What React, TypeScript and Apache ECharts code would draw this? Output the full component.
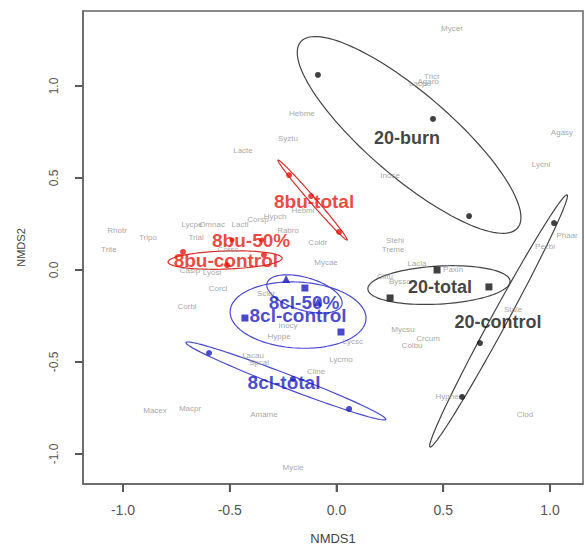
import React, { useEffect, useRef } from "react";
import * as echarts from "echarts";

// ---- Data (NMDS coordinates) ----
const xTicks = [-1.0, -0.5, 0.0, 0.5, 1.0];
const yTicks = [-1.0, -0.5, 0.0, 0.5, 1.0];
const xMin = -1.1874, xMax = 1.1546;
const yMin = -1.163, yMax = 1.4076;

const speciesNames = [
  "Mycer", "Tricr", "Lacpu", "Agaro", "Hebme", "Syztu", "Lacte", "Agasy", "Lycni", "Inose",
  "Rhotr", "Tripo", "Trite", "Lycpe", "Omnac", "Lactl", "Corsp", "Hypch", "Hebmi", "Rabro",
  "Trial", "Corsc", "Caslp", "Lyosi", "Corcl", "Corbl", "Scler", "Coldr", "Mycae", "Stehi",
  "Treme", "Lacla", "Paxin", "Clitu", "Bysso", "Phaar", "Pezbi", "Stale", "Mycsu", "Crcum",
  "Colbu", "Hyphe", "Clod", "Lycsc", "Lycmo", "Cline", "Hyppe", "Inocy", "Lacau", "Spcal",
  "Macex", "Macpr", "Amame", "Mycle",
];
const speciesX = [
  0.541, 0.447, 0.391, 0.429, -0.162, -0.227, -0.438, 1.056, 0.958, 0.251,
  -1.028, -0.883, -1.066, -0.677, -0.583, -0.452, -0.368, -0.288, -0.157, -0.227,
  -0.658, -0.508, -0.686, -0.583, -0.555, -0.700, -0.330, -0.087, -0.049, 0.274,
  0.265, 0.377, 0.546, 0.227, 0.297, 1.080, 0.977, 0.827, 0.311, 0.429,
  0.354, 0.518, 0.883, 0.077, 0.021, -0.096, -0.269, -0.227, -0.391, -0.363,
  -0.850, -0.686, -0.340, -0.204,
];
const speciesY = [
  1.310, 1.049, 1.011, 1.027, 0.853, 0.717, 0.647, 0.750, 0.571, 0.511,
  0.212, 0.179, 0.114, 0.245, 0.250, 0.250, 0.272, 0.293, 0.321, 0.217,
  0.174, 0.114, 0.000, -0.016, -0.098, -0.201, -0.125, 0.147, 0.043, 0.158,
  0.114, 0.033, 0.005, -0.033, -0.065, 0.185, 0.130, -0.212, -0.326, -0.370,
  -0.408, -0.685, -0.783, -0.391, -0.484, -0.549, -0.364, -0.299, -0.462, -0.505,
  -0.761, -0.750, -0.788, -1.071,
];

// site scores per group
const burn20 = [[-0.087, 1.06], [0.452, 0.821], [0.621, 0.293]];
const total20 = [[0.471, 0.0], [0.714, -0.092], [0.251, -0.152]];
const control20 = [[1.019, 0.255], [0.672, -0.397], [0.588, -0.69]];
const bu8Total = [[-0.222, 0.516], [-0.119, 0.402], [0.012, 0.207]];
const bu8Fifty = [[-0.489, 0.163], [-0.35, 0.163]];
const bu8Control = [[-0.719, 0.098], [-0.513, 0.027], [-0.34, 0.082]];
const cl8Fifty = [[-0.236, -0.049], [-0.087, -0.174]];
const cl8Control = [[-0.429, -0.261], [-0.148, -0.098], [0.021, -0.337]];
const cl8Total = [[-0.597, -0.451], [-0.204, -0.592], [0.059, -0.755]];

// ellipse parameters: centre, conjugate half-axis vectors (data units)
const ellipseGroups = ["20-burn", "20-total", "20-control", "8bu-total", "8bu-control", "8cl-50%", "8cl-control", "8cl-total"];
const ellipseCx = [0.34, 0.48, 0.759, -0.112, -0.522, -0.15, -0.18, -0.237];
const ellipseCy = [0.734, -0.082, -0.277, 0.38, 0.054, -0.13, -0.245, -0.603];
const ellipseAx = [0.508, 0.333, 0.321, 0.162, 0.267, 0.175, 0.318, 0.468];
const ellipseAy = [-0.506, 0.022, 0.685, -0.217, 0.011, -0.06, -0.022, -0.209];
const ellipseBx = [0.128, 0.006, 0.033, 0.011, 0.005, -0.023, -0.009, 0.012];
const ellipseBy = [0.173, -0.103, -0.021, 0.011, -0.049, -0.085, -0.179, 0.035];

const groupLabels = ["20-burn", "20-total", "20-control", "8bu-total", "8bu-50%", "8bu-control", "8cl-50%", "8cl-control", "8cl-total"];
const groupLabelX = [0.33, 0.485, 0.756, -0.105, -0.4, -0.518, -0.152, -0.18, -0.246];
const groupLabelY = [0.717, -0.092, -0.283, 0.37, 0.158, 0.054, -0.174, -0.245, -0.609];

const BLACK = "#111111";
const RED = "#e8180f";
const BLUE = "#1c1cc4";
const groupColor: Record<string, string> = {
  "20-burn": BLACK, "20-total": BLACK, "20-control": BLACK,
  "8bu-total": RED, "8bu-50%": RED, "8bu-control": RED,
  "8cl-50%": BLUE, "8cl-control": BLUE, "8cl-total": BLUE,
};
const ellipseStroke: Record<string, string> = {
  "20-burn": "#444", "20-total": "#444", "20-control": "#444",
  "8bu-total": "#d8302a", "8bu-control": "#d8302a",
  "8cl-50%": "#4a4ad0", "8cl-control": "#4a4ad0", "8cl-total": "#4a4ad0",
};

export default function App() {
  const ref = useRef<HTMLDivElement>(null);
  useEffect(() => {
    if (!ref.current) return;
    const chart = echarts.init(ref.current, undefined, { renderer: "svg" });

    const ellipseData = ellipseGroups.map((g, i) => [ellipseCx[i], ellipseCy[i], ellipseAx[i], ellipseAy[i], ellipseBx[i], ellipseBy[i], i]);

    const pointSeries = (name: string, data: number[][], symbol: string, size: number) => ({
      type: "scatter",
      name,
      data,
      symbol,
      symbolSize: size,
      itemStyle: { color: groupColor[name] },
      z: 3,
      silent: true,
    });

    const axisGray = "#666666";
    const tickGray = "#555555";
    const TICK = 8;

    const option: any = {
      animation: false,
      backgroundColor: "#ffffff",
      grid: {
        left: 83, top: 11, right: 1, bottom: 62,
        outerBoundsMode: "none",
        containLabel: false,
        show: true, borderColor: axisGray, borderWidth: 1.5, backgroundColor: "transparent",
      },
      xAxis: {
        type: "value",
        position: "bottom",
        min: xMin,
        max: xMax,
        name: "NMDS1",
        nameLocation: "middle",
        nameGap: 48,
        nameTextStyle: { fontFamily: "Liberation Sans", fontSize: 13, color: "#444" },
        axisLine: { show: true, onZero: false, lineStyle: { color: axisGray, width: 1.5 } },
        splitLine: { show: false },
        axisTick: { show: true, inside: false, length: TICK, customValues: xTicks, lineStyle: { color: tickGray, width: 1.8 } },
        axisLabel: {
          customValues: xTicks,
          margin: 19,
          fontFamily: "Liberation Sans",
          fontSize: 14,
          color: "#555",
          formatter: (v: number) => v.toFixed(1),
        },
      },
      yAxis: {
        type: "value",
        position: "left",
        min: yMin,
        max: yMax,
        name: "NMDS2",
        nameLocation: "middle",
        nameGap: 57,
        nameRotate: 90,
        nameTextStyle: { fontFamily: "Liberation Sans", fontSize: 11, color: "#444" },
        axisLine: { show: true, onZero: false, lineStyle: { color: axisGray, width: 1.5 } },
        splitLine: { show: false },
        axisTick: { show: true, inside: false, length: TICK, customValues: yTicks, lineStyle: { color: tickGray, width: 1.8 } },
        axisLabel: {
          customValues: yTicks,
          rotate: 90,
          margin: 23,
          fontFamily: "Liberation Sans",
          fontSize: 12,
          color: "#555",
          formatter: (v: number) => v.toFixed(1),
        },
      },
      series: [
        {
          type: "scatter",
          name: "xTickMarks",
          data: xTicks.map((v) => [v, yMin]),
          symbol: "rect",
          symbolSize: [1.8, TICK],
          symbolOffset: [0, TICK / 2],
          itemStyle: { color: tickGray },
          clip: false,
          silent: true,
          z: 10,
        },
        {
          type: "scatter",
          name: "yTickMarks",
          data: yTicks.map((v) => [xMin, v]),
          symbol: "rect",
          symbolSize: [TICK, 1.8],
          symbolOffset: [-TICK / 2, 0],
          itemStyle: { color: tickGray },
          clip: false,
          silent: true,
          z: 10,
        },
        {
          type: "custom",
          name: "ellipses",
          data: ellipseData,
          clip: true,
          silent: true,
          z: 2,
          renderItem: (params: any, api: any) => {
            const cx = api.value(0), cy = api.value(1);
            const ax = api.value(2), ay = api.value(3);
            const bx = api.value(4), by = api.value(5);
            const idx = api.value(6);
            const pts: number[][] = [];
            const n = 120;
            for (let k = 0; k < n; k++) {
              const t = (2 * Math.PI * k) / n;
              const c = Math.cos(t), s = Math.sin(t);
              pts.push(api.coord([cx + c * ax + s * bx, cy + c * ay + s * by]));
            }
            return {
              type: "polygon",
              shape: { points: pts },
              style: { fill: "none", stroke: ellipseStroke[ellipseGroups[idx]], lineWidth: 1.2 },
            };
          },
        },
        pointSeries("20-burn", burn20, "circle", 6),
        pointSeries("20-total", total20, "rect", 7),
        pointSeries("20-control", control20, "circle", 6),
        pointSeries("8bu-total", bu8Total, "circle", 6),
        pointSeries("8bu-50%", bu8Fifty, "circle", 5),
        pointSeries("8bu-control", bu8Control, "circle", 6),
        pointSeries("8cl-50%", cl8Fifty, "triangle", 8),
        pointSeries("8cl-control", cl8Control, "rect", 7),
        pointSeries("8cl-total", cl8Total, "circle", 6),
        {
          type: "scatter",
          name: "species",
          data: speciesNames.map((n, i) => [speciesX[i], speciesY[i], n]),
          symbolSize: 0,
          silent: true,
          z: 4,
          label: {
            show: true,
            position: "inside",
            formatter: (p: any) => p.data[2],
            fontFamily: "Liberation Sans",
            fontSize: 8,
            color: "#8e8e8e",
          },
        },
        {
          type: "scatter",
          name: "groups",
          data: groupLabels.map((n, i) => ({
            value: [groupLabelX[i], groupLabelY[i], n],
            label: { color: groupColor[n], fontSize: n.startsWith("20") ? 18 : 19 },
          })),
          symbolSize: 0,
          silent: true,
          z: 5,
          label: {
            show: true,
            position: "inside",
            formatter: (p: any) => p.value[2],
            fontFamily: "Liberation Sans",
            fontWeight: "bold",
          },
          itemStyle: { color: "transparent" },
        },
      ],
    };

    chart.setOption(option);
    return () => chart.dispose();
  }, []);

  return (
    <div
      ref={ref}
      style={{ position: "fixed", left: 0, top: 0, width: 584, height: 546, background: "#fff" }}
    />
  );
}
